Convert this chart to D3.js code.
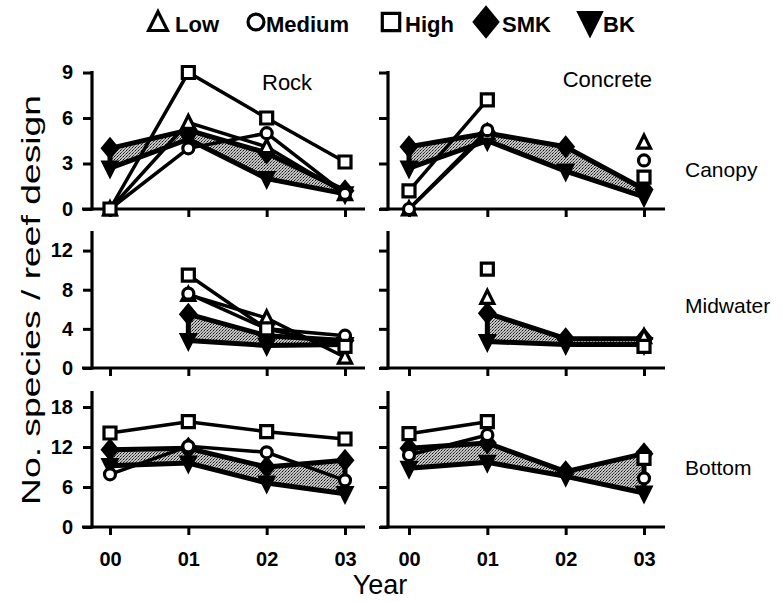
<!DOCTYPE html>
<html>
<head>
<meta charset="utf-8">
<script src="https://cdn.jsdelivr.net/npm/d3@7"></script>
<style>
  body { margin: 0; background: #fff; }
  text { font-family: "Liberation Sans", Arial, sans-serif; fill: #000; }
</style>
</head>
<body>
<div id="chart"></div>
<script>
var years = ["00", "01", "02", "03"];
var habitats = ["Canopy", "Midwater", "Bottom"];
var designs = ["Rock", "Concrete"];
var yMax = [9.1, 14, 20.4];
var yTicks = [[0, 3, 6, 9], [0, 4, 8, 12], [0, 6, 12, 18]];
var legendNames = ["Low", "Medium", "High", "SMK", "BK"];

// one row per habitat: canopy, midwater, bottom
var lowRock = [[0, 5.7, 4.1, 1.0], [null, 7.5, 5.1, 1.1], [null, null, null, null]];
var mediumRock = [[0, 4.0, 5.0, 1.0], [null, 7.6, 4.0, 3.3], [7.9, 12.1, 11.2, 7.0]];
var highRock = [[0, 9.0, 6.0, 3.1], [null, 9.5, 4.0, 2.2], [14.1, 15.8, 14.3, 13.2]];
var smkRock = [[4.0, 5.2, 3.7, 1.2], [null, 5.5, 3.3, 2.8], [11.6, 11.8, 9.0, 10.0]];
var bkRock = [[2.7, 4.6, 2.0, 1.0], [null, 2.8, 2.3, 2.4], [9.2, 9.6, 6.6, 5.0]];

var lowConcrete = [[0, 5.0, null, 4.4], [null, 7.2, null, 3.2], [null, null, null, null]];
var mediumConcrete = [[0, 5.2, null, 3.2], [null, null, null, null], [10.8, 13.8, null, 7.3]];
var highConcrete = [[1.2, 7.2, null, 2.1], [null, 10.1, null, 2.2], [14.0, 15.8, null, 10.3]];
var smkConcrete = [[4.1, 5.0, 4.1, 1.3], [null, 5.6, 3.0, 3.0], [11.8, 12.6, 8.3, 11.0]];
var bkConcrete = [[2.7, 4.5, 2.5, 0.8], [null, 2.7, 2.4, 2.4], [8.8, 9.7, 7.6, 5.1]];

var seriesByDesign = [
  { low: lowRock, medium: mediumRock, high: highRock, smk: smkRock, bk: bkRock },
  { low: lowConcrete, medium: mediumConcrete, high: highConcrete, smk: smkConcrete, bk: bkConcrete }
];

// layout
var xRange = [[110, 345], [409, 644]];
var axisX = [92, 388];
var xLineExtent = [[82, 365], [380, 665]];
var rowRange = [[209, 71], [368, 231], [527, 391]];

var svg = d3.select("#chart").append("svg")
  .attr("width", 783).attr("height", 602);

// stippled grey fill for the SMK-BK band
var pat = svg.append("defs").append("pattern")
  .attr("id", "stip").attr("patternUnits", "userSpaceOnUse")
  .attr("width", 3).attr("height", 3);
pat.append("rect").attr("width", 3).attr("height", 3).attr("fill", "#c4c4c4");
pat.append("rect").attr("x", 0).attr("y", 0).attr("width", 1).attr("height", 1).attr("fill", "#111");
pat.append("rect").attr("x", 1).attr("y", 2).attr("width", 1).attr("height", 1).attr("fill", "#444");
pat.append("rect").attr("x", 2).attr("y", 1).attr("width", 1).attr("height", 1).attr("fill", "#666");

// marker paths
function triUp(s) { return "M0," + (-0.55 * s) + "L" + (0.5 * s) + "," + (0.45 * s) + "L" + (-0.5 * s) + "," + (0.45 * s) + "Z"; }
function triDown(w, h) { return "M" + (-w / 2) + "," + (-h * 0.4) + "L" + (w / 2) + "," + (-h * 0.4) + "L0," + (h * 0.6) + "Z"; }
function diamond(w, h) { return "M0," + (-h / 2) + "L" + (w / 2) + ",0L0," + (h / 2) + "L" + (-w / 2) + ",0Z"; }
function square(s) { return "M" + (-s / 2) + "," + (-s / 2) + "h" + s + "v" + s + "h" + (-s) + "Z"; }

function drawMarker(g, kind, x, y, big) {
  var k = big ? 1.45 : 1;
  if (kind == "low") {
    g.append("path").attr("d", triUp(13 * k)).attr("transform", "translate(" + x + "," + y + ")")
      .attr("fill", "#fff").attr("stroke", "#000").attr("stroke-width", 3.2);
  } else if (kind == "medium") {
    g.append("circle").attr("cx", x).attr("cy", y).attr("r", 5.5 * k)
      .attr("fill", "#fff").attr("stroke", "#000").attr("stroke-width", 3.2);
  } else if (kind == "high") {
    g.append("path").attr("d", square(12 * k)).attr("transform", "translate(" + x + "," + y + ")")
      .attr("fill", "#fff").attr("stroke", "#000").attr("stroke-width", 3.2);
  } else if (kind == "smk") {
    g.append("path").attr("d", diamond(19 * k, 23 * k)).attr("transform", "translate(" + x + "," + y + ")")
      .attr("fill", "#000");
  } else {
    g.append("path").attr("d", triDown(19 * k, 19 * k)).attr("transform", "translate(" + x + "," + y + ")")
      .attr("fill", "#000");
  }
}

for (var d = 0; d < 2; d++) {
  var x = d3.scalePoint().domain(years).range(xRange[d]);
  for (var r = 0; r < 3; r++) {
    var y = d3.scaleLinear().domain([0, yMax[r]]).range([rowRange[r][0], rowRange[r][1]]);
    var g = svg.append("g");
    var s = seriesByDesign[d];

    // axes
    var ya = g.append("g").attr("transform", "translate(" + axisX[d] + ",0)")
      .call(d3.axisLeft(y).tickValues(yTicks[r]).tickSize(9).tickSizeOuter(0).tickPadding(10)
        .tickFormat(d == 0 ? d3.format("d") : ""));
    ya.select(".domain").remove();
    ya.selectAll("line").attr("stroke-width", 3);
    ya.attr("font-family", "Liberation Sans, Arial, sans-serif").attr("font-size", 20).attr("font-weight", "bold");

    var xa = g.append("g").attr("transform", "translate(0," + y(0) + ")")
      .call(d3.axisBottom(x).tickSize(8).tickSizeOuter(0).tickPadding(17)
        .tickFormat(r == 2 ? null : ""));
    xa.select(".domain").remove();
    xa.selectAll("line").attr("stroke-width", 3);
    xa.attr("font-family", "Liberation Sans, Arial, sans-serif").attr("font-size", 20).attr("font-weight", "bold");

    g.append("line").attr("x1", axisX[d]).attr("x2", axisX[d])
      .attr("y1", y.range()[1]).attr("y2", y(0) + 1.5)
      .attr("stroke", "#000").attr("stroke-width", 3.2);
    g.append("line").attr("x1", xLineExtent[d][0]).attr("x2", xLineExtent[d][1])
      .attr("y1", y(0)).attr("y2", y(0))
      .attr("stroke", "#000").attr("stroke-width", 3.2);

    // SMK - BK band
    var bandData = years.map(function (yr, i) { return { yr: yr, top: s.smk[r][i], bot: s.bk[r][i] }; });
    var area = d3.area()
      .defined(function (p) { return p.top != null && p.bot != null; })
      .x(function (p) { return x(p.yr); })
      .y0(function (p) { return y(p.bot); })
      .y1(function (p) { return y(p.top); });
    g.append("path").datum(bandData).attr("d", area)
      .attr("fill", "url(#stip)").attr("stroke", "#000").attr("stroke-width", 5)
      .attr("stroke-linejoin", "round");

    // open-marker lines
    ["low", "medium", "high"].forEach(function (k) {
      var pts = years.map(function (yr, i) { return { yr: yr, v: s[k][r][i] }; });
      var line = d3.line()
        .defined(function (p) { return p.v != null; })
        .x(function (p) { return x(p.yr); })
        .y(function (p) { return y(p.v); });
      g.append("path").datum(pts).attr("d", line)
        .attr("fill", "none").attr("stroke", "#000").attr("stroke-width", 3.5);
    });

    // markers
    ["smk", "bk", "low", "medium", "high"].forEach(function (k) {
      years.forEach(function (yr, i) {
        var v = s[k][r][i];
        if (v != null) drawMarker(g, k, x(yr), y(v), false);
      });
    });
  }
}

// panel titles
svg.append("text").attr("x", 262).attr("y", 90).attr("font-size", 22).text("Rock");
svg.append("text").attr("x", 652).attr("y", 87).attr("font-size", 22).attr("text-anchor", "end").text("Concrete");

// habitat labels
var habY = [177, 313, 475];
habitats.forEach(function (h, i) {
  svg.append("text").attr("x", 685).attr("y", habY[i]).attr("font-size", 21).text(h);
});

// axis titles
svg.append("text").attr("x", 380).attr("y", 594).attr("font-size", 27)
  .attr("text-anchor", "middle").text("Year");
svg.append("text").attr("transform", "translate(40,300) rotate(-90)")
  .attr("font-size", 26).attr("text-anchor", "middle")
  .attr("textLength", 410).attr("lengthAdjust", "spacingAndGlyphs")
  .text("No. species / reef design");

// legend
var legMarkX = [158, 256, 391, 486, 590];
var legTextX = [175, 266, 405, 502, 603];
var legKinds = ["low", "medium", "high", "smk", "bk"];
var leg = svg.append("g");
legendNames.forEach(function (n, i) {
  drawMarker(leg, legKinds[i], legMarkX[i], 22, true);
  leg.append("text").attr("x", legTextX[i]).attr("y", 32)
    .attr("font-size", 22).attr("font-weight", "bold").text(n);
});
</script>
</body>
</html>
